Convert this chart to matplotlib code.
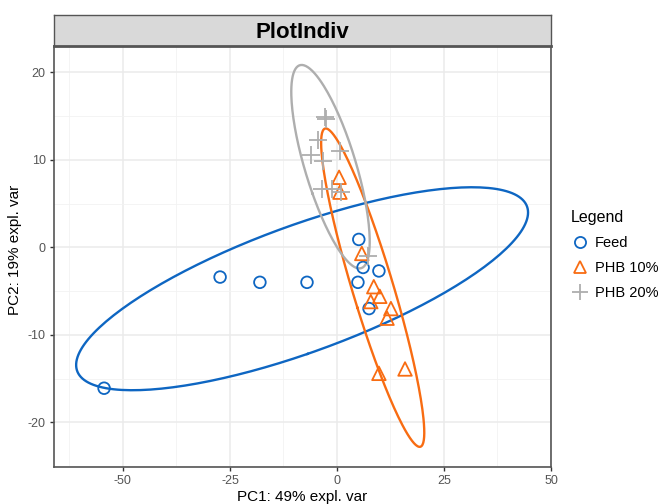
import numpy as np
import matplotlib
matplotlib.use("Agg")
import matplotlib.pyplot as plt
from matplotlib.lines import Line2D
from matplotlib.ticker import MultipleLocator

plt.rcParams["font.family"] = ["Liberation Sans", "DejaVu Sans"]
plt.rcParams["axes.unicode_minus"] = False

groups = ["Feed", "PHB 10%", "PHB 20%"]

feed_x = [-54.4, -27.3, -18.0, -7.0, 5.1, 4.9, 6.1, 9.8, 7.5]
feed_y = [-16.1, -3.4, -4.0, -4.0, 0.9, -4.0, -2.3, -2.7, -7.0]

phb10_x = [0.5, 0.7, 5.8, 8.6, 10.0, 7.9, 12.6, 11.7, 9.8, 15.9]
phb10_y = [8.0, 6.3, -0.7, -4.5, -5.6, -6.2, -7.0, -8.1, -14.4, -13.9]

phb20_x = [-2.8, -2.6, -4.4, -6.1, -3.3, 0.7, -3.5, -1.2, 0.9, 7.2]
phb20_y = [14.9, 14.7, 12.3, 10.6, 9.9, 11.0, 6.7, 6.7, 6.3, -1.0]

colors = ["#0E66C2", "#F86C12", "#AEAEAE"]


def conf_ellipse(x, y, level=0.95, n=200):
    # same idea as ellipse::ellipse used by mixOmics
    pts = np.column_stack([x, y])
    centre = pts.mean(axis=0)
    cov = np.cov(pts, rowvar=False)
    t = np.sqrt(-2.0 * np.log(1.0 - level))
    vals, vecs = np.linalg.eigh(cov)
    ang = np.linspace(0, 2 * np.pi, n)
    circ = np.vstack([np.cos(ang), np.sin(ang)])
    ell = vecs @ (np.sqrt(vals)[:, None] * circ) * t
    return centre[0] + ell[0], centre[1] + ell[1]


fig = plt.figure(figsize=(6.69, 5.04), dpi=100)
W, H = 669, 504
left, right, top, bottom = 54, 551, 46, 467
ax = fig.add_axes([left / W, (H - bottom) / H, (right - left) / W, (bottom - top) / H])
strip = fig.add_axes([left / W, (H - top) / H, (right - left) / W, 31 / H])

strip.set_facecolor("#D9D9D9")
strip.set_xticks([])
strip.set_yticks([])
for s in strip.spines.values():
    s.set_color("#555555")
    s.set_linewidth(1.0)
strip.spines["bottom"].set_linewidth(2.0)
strip.text(0.5, 0.45, "PlotIndiv", ha="center", va="center", fontsize=16,
           fontweight="bold", transform=strip.transAxes)

data = [(feed_x, feed_y), (phb10_x, phb10_y), (phb20_x, phb20_y)]
for (xs, ys), c in zip(data, colors):
    ex, ey = conf_ellipse(xs, ys)
    ax.plot(ex, ey, color=c, lw=1.7, zorder=2)

ax.scatter(feed_x, feed_y, s=70, facecolors="none", edgecolors=colors[0], linewidths=1.3, zorder=3)
ax.scatter(phb10_x, phb10_y, s=95, marker="^", facecolors="none", edgecolors=colors[1], linewidths=1.3, zorder=3)
ax.scatter(phb20_x, phb20_y, s=150, marker="+", color=colors[2], linewidths=1.3, zorder=3)

ax.set_xlim(-66.1, 50.0)
ax.set_ylim(-25.1, 23.0)
ax.xaxis.set_major_locator(MultipleLocator(25))
ax.yaxis.set_major_locator(MultipleLocator(10))
ax.xaxis.set_minor_locator(MultipleLocator(12.5))
ax.yaxis.set_minor_locator(MultipleLocator(5))
ax.grid(which="major", color="#EBEBEB", lw=1.1)
ax.grid(which="minor", color="#F2F2F2", lw=0.6)
ax.set_axisbelow(True)
ax.tick_params(which="major", length=3, width=1, color="#333333", labelcolor="#555555", labelsize=9, pad=3)
ax.tick_params(which="minor", length=0)
for s in ax.spines.values():
    s.set_color("#555555")
    s.set_linewidth(1.2)
ax.spines["top"].set_visible(False)

fig.text(302 / W, 1 - 497 / H, "PC1: 49% expl. var", ha="center", va="center", fontsize=11)
fig.text(15 / W, 1 - 250 / H, "PC2: 19% expl. var", ha="center", va="center", fontsize=11, rotation=90)

handles = [
    Line2D([], [], ls="none", marker="o", markersize=8, markerfacecolor="none",
           markeredgecolor=colors[0], markeredgewidth=1.3),
    Line2D([], [], ls="none", marker="^", markersize=9, markerfacecolor="none",
           markeredgecolor=colors[1], markeredgewidth=1.3),
    Line2D([], [], ls="none", marker="+", markersize=11, color=colors[2], markeredgewidth=1.3),
]
leg = fig.legend(handles, groups, title="Legend", loc="upper left",
                 bbox_to_anchor=(558 / W, 1 - 197 / H), frameon=False,
                 fontsize=10.5, title_fontsize=11.5, handletextpad=0.45,
                 labelspacing=0.75, handlelength=1.2)
leg._legend_box.align = "left"

fig.savefig("out.png", dpi=100)
